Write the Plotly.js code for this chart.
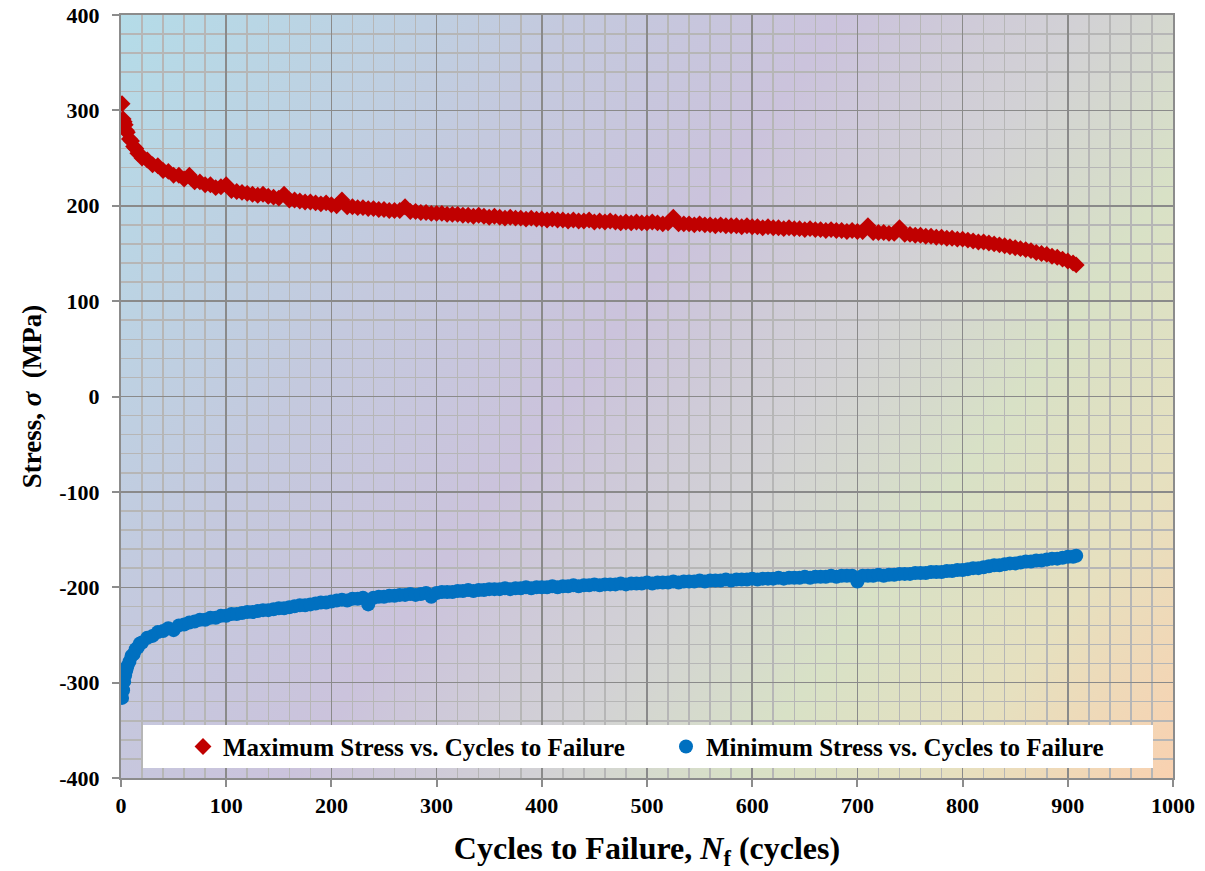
<!DOCTYPE html>
<html>
<head>
<meta charset="utf-8">
<script src="https://cdn.plot.ly/plotly-3.0.1.min.js"></script>
<style>html,body{margin:0;padding:0;background:#fff;}#chart{width:1205px;height:871px;}</style>
</head>
<body>
<div id="chart"></div>
<script>
// Cycles to failure (x values)
const cycles = [1,2,3,4,5,6,8,10,12,14,16,18,20,
25,30,35,40,45,50,55,60,65,70,
75,80,85,90,95,100,105,110,115,120,
125,130,135,140,145,150,155,160,165,170,
175,180,185,190,195,200,205,210,215,220,
225,230,235,240,245,250,255,260,265,270,
275,280,285,290,295,300,305,310,315,320,
325,330,335,340,345,350,355,360,365,370,
375,380,385,390,395,400,405,410,415,420,
425,430,435,440,445,450,455,460,465,470,
475,480,485,490,495,500,505,510,515,520,
525,530,535,540,545,550,555,560,565,570,
575,580,585,590,595,600,605,610,615,620,
625,630,635,640,645,650,655,660,665,670,
675,680,685,690,695,700,705,710,715,720,
725,730,735,740,745,750,755,760,765,770,
775,780,785,790,795,800,805,810,815,820,
825,830,835,840,845,850,855,860,865,870,
875,880,885,890,895,900,905,908];

// Maximum stress (MPa)
const maxStress = [307,291,288,285,279,277,270,268,262,260,255,254,250,
248,243,242,237,236,232,232,228,232,225,
225,222,222,219,220,222,216,215,214,213,
212,211,212,210,209,208,212,206,206,205,
204,204,203,202,203,201,200,206,199,199,
198,198,197,197,196,196,195,195,195,199,
194,194,193,193,192,192,192,191,191,191,
190,190,189,190,189,188,189,188,187,188,
187,187,186,187,186,186,185,186,185,185,
184,185,184,184,185,183,184,183,184,183,
182,183,182,183,182,182,183,182,181,182,
188,181,181,181,180,181,180,180,179,180,
179,179,179,178,179,178,178,177,178,177,
177,176,177,176,176,175,176,175,175,174,
175,174,174,173,174,173,173,179,172,172,
172,171,171,177,170,170,169,169,168,168,
167,167,166,166,165,165,164,163,162,162,
161,160,159,158,157,156,155,154,153,151,
150,149,147,146,144,142,140,138];

// Minimum stress (MPa)
const minStress = [-316,-308,-299,-292,-287,-283,-278,-272,-270,-265,-263,-259,-258,
-253,-251,-247,-246,-243,-245,-240,-239,-237,-236,
-234,-234,-232,-232,-230,-230,-228,-228,-227,-226,
-226,-225,-224,-224,-223,-222,-222,-221,-220,-219,
-219,-218,-217,-216,-216,-215,-214,-213,-214,-212,
-212,-211,-218,-211,-210,-210,-209,-209,-208,-208,
-207,-208,-207,-206,-210,-206,-205,-205,-205,-204,
-204,-203,-204,-203,-203,-202,-202,-202,-201,-202,
-201,-201,-200,-201,-200,-200,-200,-199,-200,-199,
-199,-198,-199,-198,-198,-197,-198,-197,-197,-197,
-196,-197,-196,-196,-196,-195,-196,-195,-195,-195,
-194,-195,-194,-194,-194,-193,-194,-193,-193,-193,
-192,-193,-192,-192,-192,-191,-192,-191,-191,-191,
-190,-191,-190,-190,-190,-189,-190,-189,-189,-189,
-188,-189,-188,-188,-188,-194,-188,-188,-188,-187,
-188,-187,-187,-186,-186,-186,-185,-185,-185,-184,
-184,-184,-183,-183,-182,-182,-181,-180,-180,-179,
-178,-177,-177,-176,-175,-175,-174,-173,-173,-172,
-172,-171,-170,-170,-169,-168,-168,-167];

const seriesNames = ["Maximum Stress vs. Cycles to Failure", "Minimum Stress vs. Cycles to Failure"];

// Axis ticks
const xTickVals = [0,100,200,300,400,500,600,700,800,900,1000];
const xTickText = ["0","100","200","300","400","500","600","700","800","900","1000"];
const yTickVals = [-400,-300,-200,-100,0,100,200,300,400];
const yTickText = ["-400","-300","-200","-100","0","100","200","300","400"];

// Background gradient image for plot area
function gradientURL(w, h) {
  const c = document.createElement('canvas');
  c.width = w; c.height = h;
  const ctx = c.getContext('2d');
  const g = ctx.createLinearGradient(0, 0, w, h);
  g.addColorStop(0.0, '#b4dce8');
  g.addColorStop(0.28, '#c4c9de');
  g.addColorStop(0.45, '#cbc3dc');
  g.addColorStop(0.6, '#d2d1d5');
  g.addColorStop(0.73, '#d8e1c6');
  g.addColorStop(0.86, '#e6e0bf');
  g.addColorStop(1.0, '#f9d1b0');
  ctx.fillStyle = g;
  ctx.fillRect(0, 0, w, h);
  return c.toDataURL('image/png');
}

const FONT = '"Liberation Serif", "DejaVu Serif", serif';
const L = 121, R = 32, T = 15, B = 93;
const W = 1205, H = 871;
const pw = W - L - R, ph = H - T - B;

const traces = [
  {x: cycles, y: maxStress, type: 'scatter', mode: 'markers', name: seriesNames[0],
   marker: {symbol: 'diamond', size: 13, color: '#c00000', line: {width: 0}}},
  {x: cycles, y: minStress, type: 'scatter', mode: 'markers', name: seriesNames[1],
   marker: {symbol: 'circle', size: 14, color: '#0070c0', line: {width: 0}}}
];

const axisCommon = {
  showline: true, mirror: true, linecolor: '#8c8c8c', linewidth: 2,
  ticks: 'outside', ticklen: 7, tickwidth: 2, tickcolor: '#8c8c8c',
  gridcolor: '#8a8a8a', gridwidth: 1.5, zeroline: false,
  tickfont: {family: FONT, size: 22, color: '#000', weight: 'bold'}
};

const layout = {
  width: W, height: H,
  margin: {l: L, r: R, t: T, b: B},
  paper_bgcolor: '#ffffff', plot_bgcolor: 'rgba(0,0,0,0)',
  showlegend: true,
  xaxis: Object.assign({}, axisCommon, {
    range: [0, 1000], tickmode: 'array', tickvals: xTickVals, ticktext: xTickText,
    minor: {dtick: 20, tick0: 0, showgrid: true, gridcolor: '#b6b6b6', gridwidth: 1.5, ticks: ''},
    title: {text: 'Cycles to Failure, <i>N</i><sub>f</sub> (cycles)', standoff: 21,
            font: {family: FONT, size: 32, color: '#000', weight: 'bold'}}
  }),
  yaxis: Object.assign({}, axisCommon, {
    range: [-400, 400], tickmode: 'array', tickvals: yTickVals, ticktext: yTickText,
    ticklabelstandoff: 8,
    minor: {dtick: 20, tick0: 0, showgrid: true, gridcolor: '#b6b6b6', gridwidth: 1.5, ticks: ''},
    title: {text: 'Stress, <i>σ</i>  (MPa)', standoff: 10,
            font: {family: FONT, size: 27, color: '#000', weight: 'bold'}}
  }),
  legend: {
    orientation: 'h', x: (183 - L) / pw, xanchor: 'left', y: 0.041, yanchor: 'middle',
    bgcolor: 'rgba(0,0,0,0)', borderwidth: 0,
    font: {family: FONT, size: 25, color: '#000', weight: 'bold'},
    itemwidth: 30, entrywidth: 438, entrywidthmode: 'pixels'
  },
  shapes: [{type: 'rect', xref: 'paper', yref: 'paper',
            x0: (143 - L) / pw, x1: (1153 - L) / pw,
            y0: (H - B - 768) / ph, y1: (H - B - 725) / ph,
            fillcolor: '#ffffff', line: {width: 0}, layer: 'above'}],
  images: [{source: gradientURL(pw, ph), xref: 'paper', yref: 'paper',
            x: 0, y: 1, sizex: 1, sizey: 1, xanchor: 'left', yanchor: 'top',
            sizing: 'stretch', layer: 'below'}]
};

Plotly.newPlot('chart', traces, layout, {displayModeBar: false, staticPlot: true});
</script>
</body>
</html>
